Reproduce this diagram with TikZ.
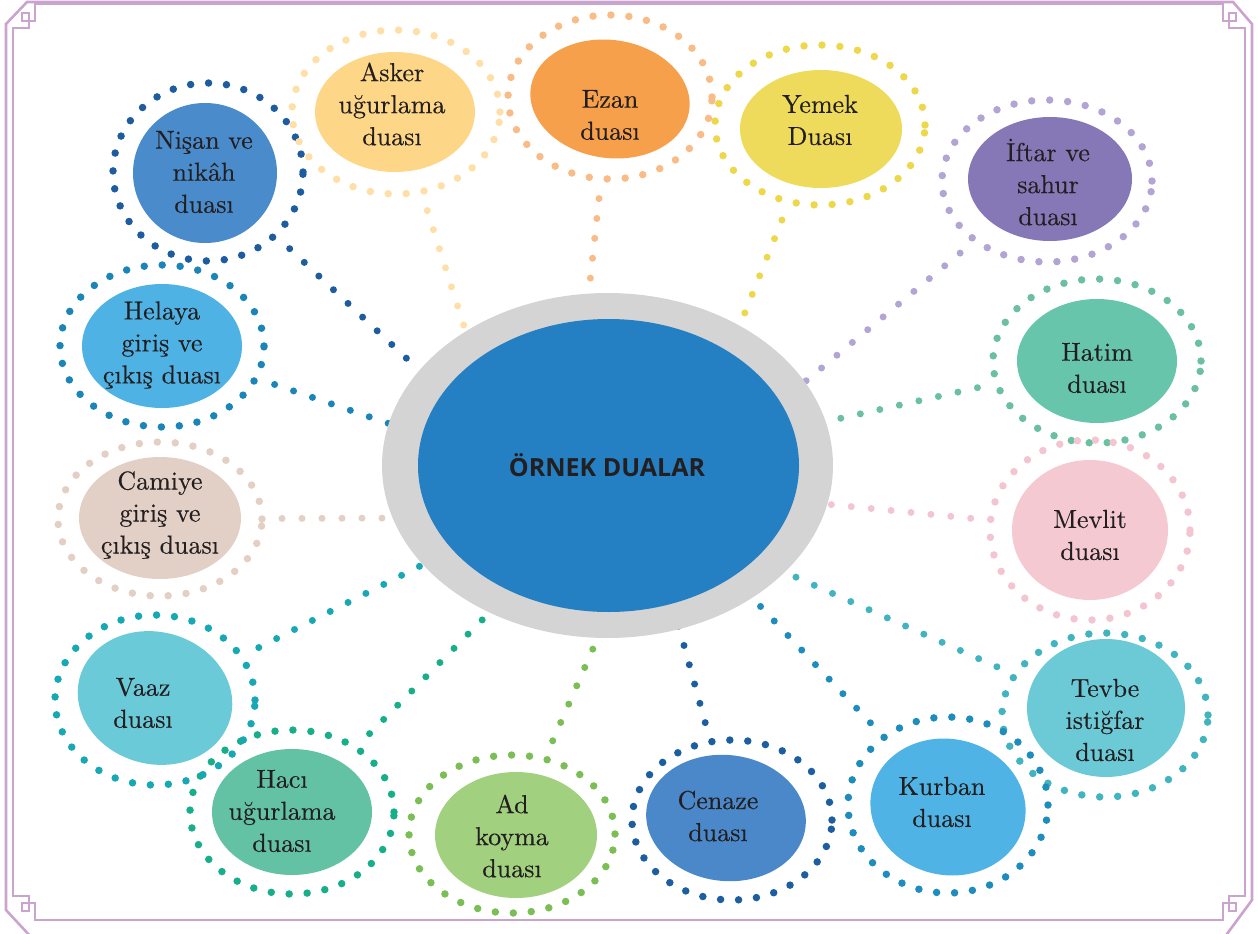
\documentclass[tikz,border=0pt]{standalone}
\usepackage{fontspec}
\newfontfamily\titlefam{Open Sans}
\newfontfamily\lblfam{lmroman10-regular.otf}[FakeBold=0.3]
\usetikzlibrary{shapes.geometric,backgrounds}
\definecolor{framec}{HTML}{CBA3CF}
\definecolor{txtc}{HTML}{231F20}
\definecolor{grayring}{HTML}{D4D4D4}
\definecolor{centerblue}{HTML}{2580C3}
% fills / dots
\definecolor{fA}{HTML}{4A8BCB}\definecolor{dA}{HTML}{1D5C9E}
\definecolor{fB}{HTML}{FDD687}\definecolor{dB}{HTML}{FFDFA8}
\definecolor{fC}{HTML}{F7A04C}\definecolor{dC}{HTML}{F9BC87}
\definecolor{fD}{HTML}{EEDA5B}\definecolor{dD}{HTML}{EDD84C}
\definecolor{fE}{HTML}{8677B7}\definecolor{dE}{HTML}{B2A5D3}
\definecolor{fF}{HTML}{66C5AB}\definecolor{dF}{HTML}{6BBFA3}
\definecolor{fG}{HTML}{F4C9D2}\definecolor{dG}{HTML}{F2C5D0}
\definecolor{fH}{HTML}{6BCAD6}\definecolor{dH}{HTML}{42B4BF}
\definecolor{fI}{HTML}{4FB3E5}\definecolor{dI}{HTML}{1E8CBD}
\definecolor{fJ}{HTML}{4A88C9}\definecolor{dJ}{HTML}{1D5EA0}
\definecolor{fK}{HTML}{A1D07F}\definecolor{dK}{HTML}{7CBE56}
\definecolor{fL}{HTML}{64C2A4}\definecolor{dL}{HTML}{19AE8A}
\definecolor{fM}{HTML}{6ACAD8}\definecolor{dM}{HTML}{18A8B4}
\definecolor{fN}{HTML}{E2CFC6}\definecolor{dN}{HTML}{E3CFC4}
\definecolor{fO}{HTML}{4FB2E4}\definecolor{dO}{HTML}{1B85B7}
\begin{document}
\begin{tikzpicture}[x=1pt,y=-1pt,
  ring/.style={ellipse, draw=#1, line width=7.5pt, line cap=round, dash pattern=on 0pt off 18pt, inner sep=0pt, outer sep=0pt},
  blob/.style={ellipse, fill=#1, inner sep=0pt, outer sep=0pt},
  lbl/.style={text=txtc, align=center, inner sep=0pt, font=\lblfam\fontsize{26}{32}\selectfont},
  conn/.style={draw=#1, line width=7pt, line cap=round, dash pattern=on 0pt off 20pt, shorten <=20pt},
  framepen/.style={draw=framec, line width=2.6pt, line join=miter}
]
\useasboundingbox (0,0) rectangle (1258,934);
\clip (0,0) rectangle (1258,934);
% frame
\draw[framepen] (6,24) -- (27,2) -- (1233,2) -- (1252,24) -- (1252,900) -- (1224,938) -- (32,938) -- (6,910) -- cycle;
\draw[framepen] (13,28) -- (29,28) -- (29,13) -- (22,13) -- (22,21) -- (35,21) -- (35,4)
  -- (1223,4) -- (1223,21) -- (1236,21) -- (1236,13) -- (1229,13) -- (1229,28) -- (1245,28)
  -- (1245,896) -- (1229,896) -- (1229,911) -- (1236,911) -- (1236,903) -- (1223,903) -- (1223,920)
  -- (35,920) -- (35,903) -- (22,903) -- (22,911) -- (29,911) -- (29,896) -- (13,896) -- cycle;

% center
\node[blob=grayring, minimum width=451pt, minimum height=345pt] (c) at (607.5,465.5) {};
\node[blob=centerblue, minimum width=381pt, minimum height=293pt] (ci) at (608.5,465.5) {};
\node[text=txtc, font=\titlefam\bfseries\fontsize{25}{30}\selectfont] (title) at (607,465) {ÖRNEK DUALAR};

% satellites: rings
\node[ring=dA, minimum width=190pt, minimum height=178pt] (r1) at (208,172) {};
\node[ring=dB, minimum width=208pt, minimum height=164pt] (r2) at (396,112) {};
\node[ring=dC, minimum width=204pt, minimum height=164pt] (r3) at (610,97) {};
\node[ring=dD, minimum width=210pt, minimum height=160pt] (r4) at (820,125) {};
\node[ring=dE, minimum width=210pt, minimum height=162pt] (r5) at (1047,181) {};
\node[ring=dF, minimum width=208pt, minimum height=164pt] (r6) at (1097,361) {};
\node[ring=dG, minimum width=200pt, minimum height=180pt] (r7) at (1090,530) {};
\node[ring=dH, minimum width=206pt, minimum height=164pt] (r8) at (1105,715) {};
\node[ring=dI, minimum width=200pt, minimum height=176pt] (r9) at (948,805) {};
\node[ring=dJ, minimum width=200pt, minimum height=160pt] (r10) at (732,820) {};
\node[ring=dK, minimum width=206pt, minimum height=158pt] (r11) at (512,834) {};
\node[ring=dL, minimum width=204pt, minimum height=164pt] (r12) at (292,812) {};
\node[ring=dM, minimum width=200pt, minimum height=170pt] (r13) at (155,700) {};
\node[ring=dN, minimum width=204pt, minimum height=154pt] (r14) at (160,519) {};
\node[ring=dO, minimum width=204pt, minimum height=162pt] (r15) at (162,346) {};

% satellites: filled ellipses
\node[blob=fA, minimum width=144pt, minimum height=140pt] (b1) at (205,173) {};
\node[blob=fB, minimum width=160pt, minimum height=120pt] (b2) at (395,112) {};
\node[blob=fC, minimum width=160pt, minimum height=118pt, rotate=-8] (b3) at (610,99) {};
\node[blob=fD, minimum width=162pt, minimum height=118pt] (b4) at (821,129) {};
\node[blob=fE, minimum width=164pt, minimum height=124pt] (b5) at (1050,179) {};
\node[blob=fF, minimum width=160pt, minimum height=124pt] (b6) at (1097,361) {};
\node[blob=fG, minimum width=156pt, minimum height=140pt] (b7) at (1090,530) {};
\node[blob=fH, minimum width=158pt, minimum height=138pt] (b8) at (1106,708) {};
\node[blob=fI, minimum width=156pt, minimum height=136pt, rotate=-12] (b9) at (948,807) {};
\node[blob=fJ, minimum width=160pt, minimum height=126pt, rotate=-6] (b10) at (726,818) {};
\node[blob=fK, minimum width=162pt, minimum height=126pt] (b11) at (516,835) {};
\node[blob=fL, minimum width=160pt, minimum height=126pt] (b12) at (292,812) {};
\node[blob=fM, minimum width=156pt, minimum height=132pt, rotate=-15] (b13) at (155,698) {};
\node[blob=fN, minimum width=162pt, minimum height=122pt] (b14) at (160,518) {};
\node[blob=fO, minimum width=160pt, minimum height=124pt] (b15) at (162,346) {};

% labels
\node[lbl] (t1) at (204,172) {Nişan ve\\nikâh\\duası};
\node[lbl] (t2) at (392,104) {Asker\\uğurlama\\duası};
\node[lbl] (t3) at (610,115) {Ezan\\duası};
\node[lbl] (t4) at (820,120) {Yemek\\Duası};
\node[lbl] (t5) at (1048,182) {İftar ve\\sahur\\duası};
\node[lbl] (t6) at (1097,368) {Hatim\\duası};
\node[lbl] (t7) at (1090,535) {Mevlit\\duası};
\node[lbl] (t8) at (1105,720) {Tevbe\\istiğfar\\duası};
\node[lbl] (t9) at (942,802) {Kurban\\duası};
\node[lbl] (t10) at (718,816) {Cenaze\\duası};
\node[lbl] (t11) at (512,836) {Ad\\koyma\\duası};
\node[lbl] (t12) at (282,811) {Hacı\\uğurlama\\duası};
\node[lbl] (t13) at (143,703) {Vaaz\\duası};
\node[lbl] (t14) at (160,515) {Camiye\\giriş ve\\çıkış duası};
\node[lbl] (t15) at (162,345) {Helaya\\giriş ve\\çıkış duası};

% connector ends (under the grey ring)
\coordinate (e1) at (420,371);
\coordinate (e2) at (470,345);
\coordinate (e3) at (588,300);
\coordinate (e4) at (736,335);
\coordinate (e5) at (795,390);
\coordinate (e6) at (815,424);
\coordinate (e7) at (815,503);
\coordinate (e8) at (780,570);
\coordinate (e9) at (745,590);
\coordinate (e10) at (677,620);
\coordinate (e11) at (602,628);
\coordinate (e12) at (490,612);
\coordinate (e13) at (432,560);
\coordinate (e14) at (400,518);
\coordinate (e15) at (402,428);

\begin{pgfonlayer}{background}
\draw[conn=dA] (r1) -- (e1);
\draw[conn=dB] (r2) -- (e2);
\draw[conn=dC] (r3) -- (e3);
\draw[conn=dD] (r4) -- (e4);
\draw[conn=dE] (r5) -- (e5);
\draw[conn=dF] (r6) -- (e6);
\draw[conn=dG] (r7) -- (e7);
\draw[conn=dH] (r8) -- (e8);
\draw[conn=dI] (r9) -- (e9);
\draw[conn=dJ] (r10) -- (e10);
\draw[conn=dK] (r11) -- (e11);
\draw[conn=dL] (r12) -- (e12);
\draw[conn=dM] (r13) -- (e13);
\draw[conn=dN] (r14) -- (e14);
\draw[conn=dO] (r15) -- (e15);
\end{pgfonlayer}
\end{tikzpicture}
\end{document}
